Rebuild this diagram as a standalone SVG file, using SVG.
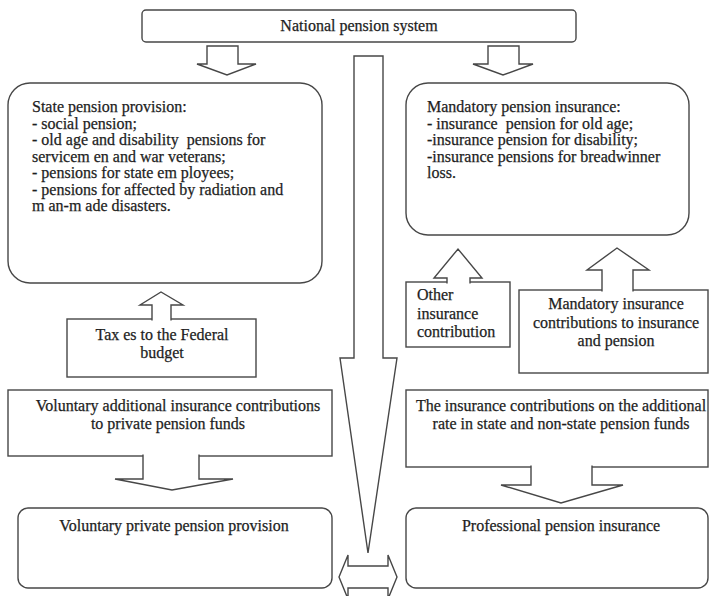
<svg xmlns="http://www.w3.org/2000/svg" width="709" height="596" viewBox="0 0 709 596">
<style>
.b{fill:#fff;stroke:#474747;stroke-width:1.4}
.a{fill:#fff;stroke:#474747;stroke-width:1.4;stroke-linejoin:miter}
text{font-family:"Liberation Serif","Times New Roman",serif;font-size:16px;fill:#1e1e1e;stroke:#1e1e1e;stroke-width:0.25}
.c{text-anchor:middle}
</style>
<rect width="709" height="596" fill="#fff"/>
<g id="connectors">
<polygon class="a" points="207,46 238,46 238,64 256,64 227,75 197,64 207,64"/>
<polygon class="a" points="488,46 519,46 519,64 533,64 503,75 473,64 488,64"/>
<polygon class="a" points="354,56 383,56 383,358 397,358 368,553 340,358 354,358"/>
<polygon class="a" points="339,577 348,555 348,566 388,566 388,555 397,577 388,599 388,588 348,588 348,599"/>
</g>
<g id="national">
<rect class="b" x="142" y="10" width="434" height="32" rx="4"/>
<text class="c" x="359" y="31">National pension system</text>
</g>
<g id="state">
<rect class="b" x="8" y="83" width="314" height="200" rx="22"/>
<text x="32" y="112">State pension provision:</text>
<text x="32" y="128.5">- social pension;</text>
<text x="32" y="145" xml:space="preserve">- old age and disability  pensions for</text>
<text x="32" y="161.5">servicem en and war veterans;</text>
<text x="32" y="178">- pensions for state em ployees;</text>
<text x="32" y="194.5">- pensions for affected by radiation and</text>
<text x="32" y="211">m an-m ade disasters.</text>
</g>
<g id="mandatory-pension">
<rect class="b" x="406" y="83" width="283" height="152" rx="22"/>
<text x="427" y="112">Mandatory pension insurance:</text>
<text x="427" y="128.5" xml:space="preserve">- insurance  pension for old age;</text>
<text x="427" y="145">-insurance pension for disability;</text>
<text x="427" y="161.5">-insurance pensions for breadwinner</text>
<text x="427" y="178">loss.</text>
</g>
<g id="taxes">
<rect class="b" x="67" y="319" width="189" height="58"/>
<polyline class="a" points="152,320.5 152,305 140,305 161,292 183,305 171,305 171,320.5"/>
<text class="c" x="162" y="340">Tax es to the Federal</text>
<text class="c" x="162" y="358">budget</text>
</g>
<g id="other">
<rect class="b" x="406" y="282" width="104" height="65"/>
<polyline class="a" points="447,283.5 447,278 434,278 458,249 482,278 470,278 470,283.5"/>
<text x="417" y="300">Other</text>
<text x="417" y="318.5">insurance</text>
<text x="417" y="337">contribution</text>
</g>
<g id="mandatory-contrib">
<rect class="b" x="519" y="290" width="189" height="83"/>
<polyline class="a" points="602,291.5 602,270 587,270 617,248 649,270 633,270 633,291.5"/>
<text class="c" x="616" y="309">Mandatory insurance</text>
<text class="c" x="616" y="327.5">contributions to insurance</text>
<text class="c" x="616" y="346">and pension</text>
</g>
<g id="voluntary-contrib">
<rect class="b" x="8" y="390" width="324" height="66"/>
<polyline class="a" points="143,454.5 143,479 115,479 172,490 233,479 199,479 199,454.5"/>
<text class="c" x="178" y="411">Voluntary additional insurance contributions</text>
<text class="c" x="168" y="429">to private pension funds</text>
</g>
<g id="additional-rate">
<rect class="b" x="406" y="390" width="302" height="77"/>
<polyline class="a" points="531,465.5 531,485 501,485 561,503 623,485 592,485 592,465.5"/>
<text class="c" x="561" y="411">The insurance contributions on the additional</text>
<text class="c" x="561" y="429">rate in state and non-state pension funds</text>
</g>
<g id="voluntary-private">
<rect class="b" x="18" y="508" width="314" height="80" rx="10"/>
<text class="c" x="174" y="531">Voluntary private pension provision</text>
</g>
<g id="professional">
<rect class="b" x="406" y="508" width="302" height="80" rx="10"/>
<text class="c" x="561" y="531">Professional pension insurance</text>
</g>
</svg>
